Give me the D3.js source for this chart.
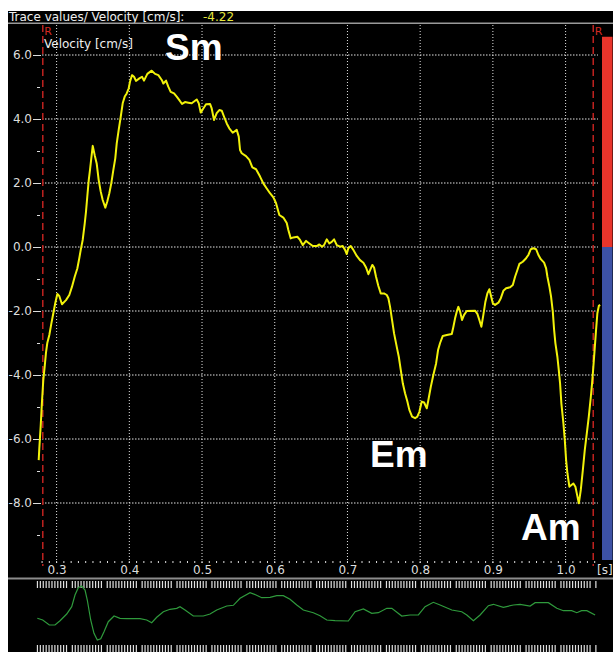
<!DOCTYPE html>
<html><head><meta charset="utf-8">
<script src="https://cdn.jsdelivr.net/npm/d3@7"></script>
<style>body{margin:0;background:#fff;} svg{display:block;}</style>
</head><body>
<script>
// ---- data ----
const velTime = [0.2754,0.2762,0.2781,0.2799,0.2817,0.2836,0.2854,0.2872,0.2900,0.2927,0.2955,0.2982,0.3010,0.3037,0.3074,0.3129,0.3175,0.3212,0.3249,0.3285,0.3312,0.3332,0.3359,0.3387,0.3404,0.3422,0.3442,0.3459,0.3477,0.3497,0.3524,0.3552,0.3579,0.3607,0.3634,0.3670,0.3697,0.3725,0.3752,0.3780,0.3807,0.3827,0.3854,0.3882,0.3909,0.3937,0.3964,0.3992,0.4010,0.4037,0.4065,0.4092,0.4138,0.4175,0.4202,0.4248,0.4308,0.4354,0.4399,0.4446,0.4468,0.4505,0.4536,0.4569,0.4615,0.4652,0.4688,0.4725,0.4766,0.4812,0.4858,0.4927,0.4955,0.4982,0.5018,0.5055,0.5110,0.5133,0.5165,0.5202,0.5238,0.5271,0.5303,0.5340,0.5375,0.5422,0.5477,0.5505,0.5523,0.5546,0.5605,0.5651,0.5692,0.5743,0.5798,0.5843,0.5890,0.5935,0.5981,0.6018,0.6063,0.6118,0.6165,0.6187,0.6220,0.6256,0.6311,0.6348,0.6385,0.6431,0.6476,0.6523,0.6578,0.6613,0.6651,0.6678,0.6715,0.6751,0.6784,0.6816,0.6853,0.6898,0.6935,0.6967,0.6990,0.7012,0.7045,0.7081,0.7128,0.7173,0.7219,0.7256,0.7288,0.7311,0.7342,0.7366,0.7393,0.7425,0.7458,0.7503,0.7541,0.7563,0.7586,0.7613,0.7641,0.7678,0.7706,0.7733,0.7761,0.7792,0.7824,0.7851,0.7889,0.7930,0.7961,0.7989,0.8022,0.8054,0.8091,0.8113,0.8146,0.8181,0.8219,0.8246,0.8274,0.8311,0.8366,0.8435,0.8457,0.8480,0.8503,0.8525,0.8549,0.8576,0.8604,0.8641,0.8755,0.8787,0.8814,0.8842,0.8869,0.8897,0.8924,0.8952,0.8971,0.8999,0.9030,0.9076,0.9109,0.9144,0.9182,0.9237,0.9274,0.9305,0.9337,0.9364,0.9411,0.9457,0.9488,0.9521,0.9557,0.9594,0.9626,0.9659,0.9704,0.9732,0.9750,0.9777,0.9800,0.9824,0.9842,0.9860,0.9887,0.9906,0.9924,0.9942,0.9970,0.9989,1.0007,1.0025,1.0052,1.0080,1.0107,1.0135,1.0154,1.0182,1.0209,1.0237,1.0264,1.0292,1.0319,1.0347,1.0364,1.0382,1.0402,1.0419,1.0437,1.0457,1.0475];
const velValue = [-6.66,-6.3,-5.6,-4.83,-4.16,-3.74,-3.3,-3.0,-2.75,-2.4,-2.07,-1.75,-1.47,-1.53,-1.79,-1.66,-1.5,-1.24,-0.93,-0.67,-0.35,-0.09,0.22,0.74,1.1,1.57,2.09,2.4,2.77,3.16,2.87,2.6,2.09,1.73,1.47,1.23,1.42,1.68,1.99,2.4,2.77,3.24,3.66,4.07,4.49,4.7,4.8,4.96,5.17,5.37,5.32,5.19,5.27,5.32,5.2,5.41,5.51,5.41,5.37,5.22,5.11,5.2,5.01,4.85,4.8,4.7,4.59,4.47,4.53,4.51,4.49,4.61,4.49,4.2,4.33,4.46,4.47,4.33,3.97,4.18,4.28,4.26,4.07,3.86,3.71,3.57,3.66,3.45,3.03,2.93,2.84,2.72,2.49,2.43,2.2,1.99,1.83,1.68,1.55,1.37,1.0,0.92,0.75,0.53,0.27,0.3,0.32,0.22,0.06,0.19,0.11,0.03,0.03,0.08,0.01,0.06,0.24,0.11,0.16,0.24,0.06,0.01,0.03,-0.09,-0.22,-0.04,0.03,-0.09,-0.28,-0.41,-0.49,-0.64,-0.85,-0.72,-0.56,-0.64,-0.93,-1.22,-1.45,-1.45,-1.5,-1.6,-1.87,-2.28,-2.7,-3.12,-3.43,-3.84,-4.26,-4.57,-4.83,-5.09,-5.3,-5.35,-5.3,-5.15,-4.83,-4.86,-5.04,-4.78,-4.37,-4.0,-3.64,-3.22,-3.0,-2.78,-2.75,-2.72,-2.49,-2.23,-2.02,-1.87,-2.02,-2.28,-2.12,-2.0,-1.99,-2.09,-2.28,-2.49,-2.12,-1.71,-1.45,-1.32,-1.5,-1.76,-1.81,-1.74,-1.6,-1.37,-1.29,-1.26,-1.19,-0.93,-0.72,-0.53,-0.46,-0.35,-0.25,-0.07,-0.04,-0.07,-0.25,-0.38,-0.49,-0.67,-0.93,-1.24,-1.55,-2.02,-2.59,-3.01,-3.43,-3.84,-4.26,-4.89,-5.51,-6.03,-6.66,-7.07,-7.49,-7.44,-7.39,-7.49,-7.7,-8.01,-7.59,-6.97,-6.34,-5.82,-5.3,-4.68,-4.26,-3.74,-3.12,-2.59,-2.07,-1.84,-1.81];
const ecgTime = [0.2735,0.2809,0.2900,0.2978,0.3047,0.3139,0.3208,0.3253,0.3298,0.3345,0.3391,0.3422,0.3469,0.3514,0.3560,0.3607,0.3652,0.3711,0.3790,0.3872,0.3964,0.4147,0.4239,0.4308,0.4377,0.4468,0.4560,0.4652,0.4697,0.4766,0.4880,0.5018,0.5110,0.5202,0.5340,0.5431,0.5523,0.5660,0.5743,0.5821,0.5935,0.6028,0.6118,0.6210,0.6303,0.6393,0.6531,0.6623,0.6715,0.6829,0.7012,0.7105,0.7219,0.7334,0.7425,0.7541,0.7610,0.7747,0.7861,0.7975,0.8067,0.8181,0.8274,0.8435,0.8572,0.8641,0.8732,0.8824,0.8938,0.9007,0.9144,0.9282,0.9374,0.9512,0.9581,0.9763,0.9879,0.9970,1.0084,1.0154,1.0220,1.0292,1.0406];
const ecgValue = [0.17,0,-0.5,-0.5,-0.07,0.6,1.33,2.5,3.23,3.4,3.0,2.0,0,-1.33,-2.0,-1.87,-1.17,-0.17,0.4,0.17,0.13,0.13,0,-0.27,0.27,0.83,1.07,1.17,1.33,1.0,0.4,0.4,0.6,1.0,1.4,1.47,2.17,2.73,2.5,2.23,2.27,2.43,2.43,2.07,1.5,1.0,0.73,0.43,0,-0.07,-0.1,0.83,1.1,0.67,0.73,1.17,1.17,0.4,0.5,0.5,1.33,1.77,1.5,1.0,0.83,0.5,-0.07,0.5,1.43,1.57,1.27,1.5,1.57,1.4,1.73,1.73,1.17,0.93,0.93,0.73,0.93,0.93,0.5];
const yMajorTicks = [6,4,2,0,-2,-4,-6,-8];
const yMinorTicks = [5,3,1,-1,-3,-5,-7,-9];
const xTicks = [0.3,0.4,0.5,0.6,0.7,0.8,0.9,1.0];
const rWaveTimes = [0.281,1.038];
const headerLabel = "Trace values/ Velocity [cm/s]:";
const headerValue = "-4.22";
const axisTitle = "Velocity [cm/s]";
const unitLabel = "[s]";
const phaseNames = ["Sm","Em","Am"];
const phaseT = [0.4491,0.7311,0.9388];
const phaseV = [5.84,-6.875,-9.16];

// ---- drawing ----
const W = 613, H = 652;
const svg = d3.select("body").append("svg").attr("width", W).attr("height", H);
const x = d3.scaleLinear().domain([0.3, 1.0]).range([56.6, 565.6]);
const y = d3.scaleLinear().domain([6, -8]).range([55, 503]);
const yE = d3.scaleLinear().domain([-2, 4]).range([640, 580]);
const font = "DejaVu Sans, Verdana, sans-serif";

svg.append("rect").attr("x", 8).attr("y", 11).attr("width", W - 8).attr("height", H - 11).attr("fill", "#000");
// header
svg.append("text").attr("x", 9).attr("y", 20.5).attr("fill", "#eee").attr("font-family", font).attr("font-size", 12).text(headerLabel);
svg.append("text").attr("x", 203).attr("y", 20.5).attr("fill", "#e6e63c").attr("font-family", font).attr("font-size", 12).text(headerValue);
svg.append("rect").attr("x", 8).attr("y", 22.5).attr("width", W - 8).attr("height", 1.5).attr("fill", "#9a9a9a");

// grid
const g = svg.append("g");
g.selectAll("line.vg").data(xTicks).join("line")
  .attr("x1", d => x(d)).attr("x2", d => x(d)).attr("y1", 25).attr("y2", 563)
  .attr("stroke", "#e2e2e2").attr("stroke-width", 1).attr("stroke-dasharray", "1,2");
g.selectAll("line.hg").data(yMajorTicks).join("line")
  .attr("x1", 42).attr("x2", 598).attr("y1", d => y(d)).attr("y2", d => y(d))
  .attr("stroke", "#e2e2e2").attr("stroke-width", 1).attr("stroke-dasharray", "1.5,1.5");

// y axis
const yAxis = svg.append("g").attr("transform", "translate(41,0)")
  .call(d3.axisLeft(y).tickValues(yMajorTicks).tickSize(8).tickPadding(1).tickFormat(d => d.toFixed(1)));
yAxis.select(".domain").remove();
yAxis.selectAll("line").attr("stroke", "#ddd");
yAxis.selectAll("text").attr("fill", "#ddd").attr("font-family", font).attr("font-size", 12);
const yMinor = svg.append("g").attr("transform", "translate(40,0)")
  .call(d3.axisLeft(y).tickValues(yMinorTicks).tickSize(3).tickFormat(""));
yMinor.select(".domain").remove();
yMinor.selectAll("line").attr("stroke", "#ddd");

// x axis
const xMinorVals = d3.range(28, 105).map(i => i / 100);
svg.append("g").selectAll("rect").data(xMinorVals).join("rect")
  .attr("x", d => x(d) - 0.5).attr("y", 561).attr("width", 1).attr("height", 2).attr("fill", "#ddd");
const xAxis = svg.append("g").attr("transform", "translate(0,562)")
  .call(d3.axisBottom(x).tickValues(xTicks).tickSize(0).tickPadding(3).tickFormat(d => d.toFixed(1)));
xAxis.select(".domain").remove();
xAxis.selectAll("text").attr("fill", "#ddd").attr("font-family", font).attr("font-size", 12);
svg.append("text").attr("x", 597).attr("y", 574).attr("fill", "#ddd").attr("font-family", font).attr("font-size", 12).text(unitLabel);

// R wave markers
svg.selectAll("line.rw").data(rWaveTimes).join("line")
  .attr("x1", d => x(d)).attr("x2", d => x(d)).attr("y1", 25).attr("y2", 566)
  .attr("stroke", "#c0221f").attr("stroke-width", 1.5).attr("stroke-dasharray", "7,4");
svg.selectAll("text.rw").data(rWaveTimes).join("text")
  .attr("x", d => x(d) + 1.5).attr("y", 35).attr("fill", "#d02a22").attr("font-family", font).attr("font-size", 11).text("R");

// color bar
svg.append("rect").attr("x", 602).attr("y", y(6.57)).attr("width", 10.5).attr("height", y(0) - y(6.57)).attr("fill", "#e8352b");
svg.append("rect").attr("x", 602).attr("y", y(0)).attr("width", 10.5).attr("height", 560 - y(0)).attr("fill", "#3d52a5");

// axis title
svg.append("text").attr("x", 44).attr("y", 48).attr("fill", "#eee").attr("font-family", font).attr("font-size", 12).text(axisTitle);

// velocity trace
const line = d3.line().x((d, i) => x(velTime[i])).y((d, i) => y(velValue[i]));
svg.append("path").datum(velValue).attr("d", line).attr("fill", "none")
  .attr("stroke", "#f2f20a").attr("stroke-width", 2).attr("stroke-linejoin", "round");

// phase labels
svg.selectAll("text.ph").data(phaseNames).join("text")
  .attr("x", (d, i) => x(phaseT[i])).attr("y", (d, i) => y(phaseV[i]))
  .attr("fill", "#fff").attr("font-family", "Liberation Sans, Arial, sans-serif")
  .attr("font-weight", "bold").attr("font-size", 37).text(d => d);

// ECG strip
svg.append("rect").attr("x", 8).attr("y", 577.5).attr("width", W - 8).attr("height", 2).attr("fill", "#8c8c8c");
const barIdx = d3.range(0, 193).filter(i => i % 12 !== 11);
["top", "bot"].forEach((k, j) => {
  svg.append("g").selectAll("rect").data(barIdx).join("rect")
    .attr("x", i => x(0.2735 + i * 0.004) - 0.5).attr("y", j === 0 ? 581 : 645)
    .attr("width", 1.2).attr("height", 7).attr("fill", "#e0e0e0");
});
const eline = d3.line().x((d, i) => x(ecgTime[i])).y((d, i) => yE(ecgValue[i]));
svg.append("path").datum(ecgValue).attr("d", eline).attr("fill", "none")
  .attr("stroke", "#2f9a3c").attr("stroke-width", 1.2);
</script>
</body></html>
